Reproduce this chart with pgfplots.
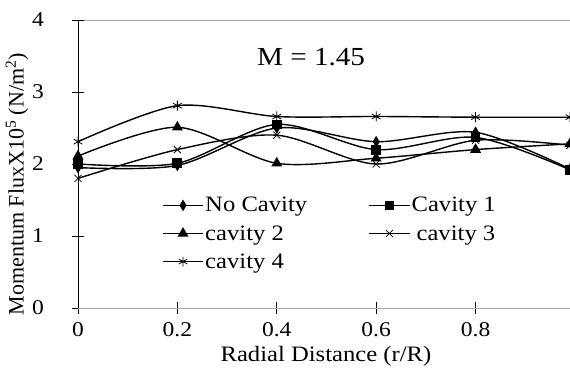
\documentclass[border=0pt]{standalone}
\usepackage{fontspec}
\setmainfont{Liberation Serif}[FakeStretch=1.12]
\newfontfamily\ylabfont{Liberation Serif}
\usepackage{pgfplots}
\pgfplotsset{compat=1.18}
\begin{document}
\begin{tikzpicture}
\begin{axis}[
  at={(0pt,0pt)}, anchor=south west,
  scale only axis, width=492pt, height=288pt,
  xmin=0, xmax=0.99, ymin=0, ymax=4,
  axis lines*=left,
  x axis line style={gray!70, line width=0.9pt},
  y axis line style={black, line width=0.9pt},
  xtick={0,0.2,0.4,0.6,0.8}, xticklabels={0,0.2,0.4,0.6,0.8},
  ytick={0,1,2,3},
  extra y ticks={4},
  extra y tick style={grid=major, major grid style={gray!70, line width=0.9pt}},
  tick align=center, major tick length=12pt,
  tick style={black, line width=0.8pt},
  /pgf/number format/assume math mode=true,
  ticklabel style={font=\fontsize{21}{24}\selectfont},
  yticklabel style={inner sep=0pt, xshift=-28pt},
  xticklabel style={inner sep=0pt, yshift=-8pt},
  xlabel={Radial Distance (r/R)},
  xlabel style={font=\fontsize{22}{26}\selectfont, at={(axis description cs:0.504,-0.166)}, anchor=center},
  ylabel={\ylabfont Momentum FluxX10\textsuperscript{5} (N/m\textsuperscript{2})},
  ylabel style={font=\fontsize{22}{26}\selectfont, at={(axis description cs:-0.124,0.43)}, anchor=center},
  every axis plot/.append style={black, line width=1.4pt, smooth, tension=0.5},
  clip=true,
  legend columns=2,
  legend cell align=left,
  legend style={at={(axis description cs:0.171,0.39)}, anchor=north west, draw=none, fill=none,
    font=\fontsize{22}{26}\selectfont, inner sep=0pt,
    /tikz/every even column/.append style={column sep=60pt},
    row sep=9pt, nodes={inner sep=1.5pt}},
  legend image code/.code={\draw[mark repeat=2,mark phase=2,#1] plot coordinates {(0pt,0pt) (20pt,0pt) (40pt,0pt)};},
]
\addplot[mark=diamond*, mark size=4.5pt, mark options={solid, xscale=0.8}] coordinates {(0,1.95)(0.2,1.98)(0.4,2.5)(0.6,2.31)(0.8,2.44)(0.99,1.93)};
\addlegendentry{No Cavity}
\addplot[mark=square*, mark size=4.2pt, mark options={solid}] coordinates {(0,2.0)(0.2,2.01)(0.4,2.55)(0.6,2.2)(0.8,2.37)(0.99,1.92)};
\addlegendentry{Cavity 1}
\addplot[mark=triangle*, mark size=5pt, mark options={solid}] coordinates {(0,2.11)(0.2,2.51)(0.4,2.01)(0.6,2.08)(0.8,2.2)(0.99,2.28)};
\addlegendentry{cavity 2}
\addplot[mark=x, mark size=5pt, mark options={solid, line width=0.8pt}] coordinates {(0,1.8)(0.2,2.2)(0.4,2.4)(0.6,2.0)(0.8,2.33)(0.99,2.26)};
\addlegendentry{\hspace{5pt}cavity 3}
\addplot[mark=asterisk, mark size=5pt, mark options={solid, line width=0.8pt}] coordinates {(0,2.31)(0.2,2.81)(0.4,2.66)(0.6,2.66)(0.8,2.65)(0.99,2.65)};
\addlegendentry{cavity 4}
\node[font=\fontsize{26}{30}\selectfont] at (axis cs:0.469,3.49) {M = 1.45};
\end{axis}
\pgfresetboundingbox
\path[use as bounding box] (-78pt,-64pt) rectangle (492pt,308pt);
\end{tikzpicture}
\end{document}
